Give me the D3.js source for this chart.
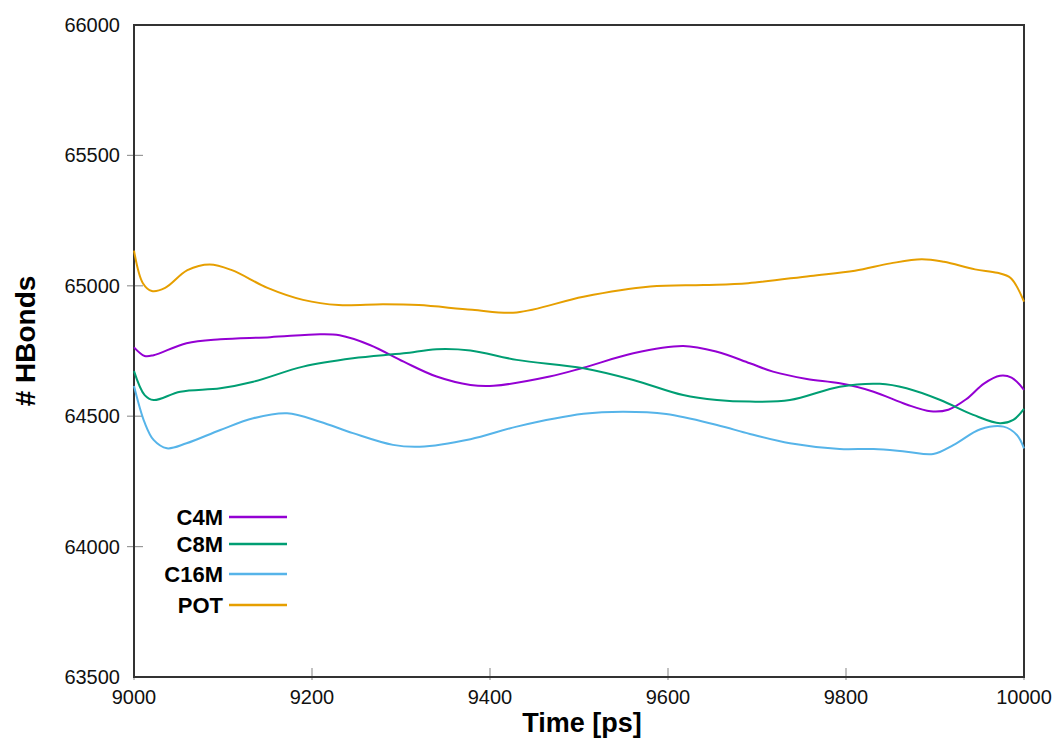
<!DOCTYPE html>
<html>
<head>
<meta charset="utf-8">
<script src="https://cdn.jsdelivr.net/npm/d3@7"></script>
<style>
  body { margin: 0; background: #fff; }
  svg { font-family: "Liberation Sans", Arial, sans-serif; }
</style>
</head>
<body>
<div id="chart"></div>
<script>
var seriesNames = ["C4M", "C8M", "C16M", "POT"];
var seriesColors = ["#9400d3", "#009e73", "#56b4e9", "#e69f00"];

var c4mTime = [9000, 9012, 9022, 9059, 9097, 9153, 9209, 9231, 9265, 9303, 9340, 9378, 9404, 9467, 9505, 9561, 9617, 9655, 9692, 9718, 9756, 9793, 9831, 9868, 9895, 9915, 9935, 9955, 9973, 9986, 10000];
var c4mValue = [64764, 64731, 64734, 64780, 64795, 64803, 64814, 64810, 64773, 64709, 64652, 64620, 64617, 64652, 64686, 64741, 64769, 64747, 64703, 64671, 64643, 64626, 64594, 64545, 64519, 64525, 64565, 64625, 64655, 64648, 64601];

var c8mTime = [9000, 9012, 9022, 9052, 9097, 9134, 9190, 9246, 9303, 9340, 9378, 9430, 9505, 9561, 9617, 9655, 9692, 9737, 9793, 9838, 9868, 9906, 9943, 9973, 9988, 10000];
var c8mValue = [64673, 64581, 64562, 64594, 64607, 64632, 64690, 64722, 64741, 64757, 64752, 64716, 64684, 64639, 64581, 64562, 64556, 64562, 64613, 64624, 64607, 64562, 64505, 64473, 64486, 64528];

var c16mTime = [9000, 9012, 9022, 9037, 9059, 9097, 9134, 9172, 9209, 9246, 9291, 9321, 9378, 9430, 9505, 9550, 9598, 9655, 9692, 9737, 9793, 9831, 9868, 9898, 9921, 9951, 9977, 9992, 10000];
var c16mValue = [64616, 64475, 64409, 64377, 64396, 64447, 64492, 64511, 64479, 64435, 64390, 64383, 64412, 64460, 64509, 64517, 64508, 64466, 64432, 64396, 64374, 64374, 64364, 64355, 64390, 64450, 64460, 64428, 64377];

var potTime = [9000, 9010, 9020, 9035, 9060, 9085, 9110, 9150, 9190, 9230, 9280, 9320, 9380, 9430, 9505, 9580, 9640, 9690, 9760, 9810, 9850, 9885, 9910, 9945, 9970, 9985, 10000];
var potValue = [65135, 65010, 64980, 64992, 65060, 65082, 65060, 64992, 64946, 64926, 64929, 64926, 64908, 64898, 64958, 64997, 65003, 65010, 65038, 65058, 65086, 65102, 65092, 65063, 65050, 65030, 64939];

var xTicks = [9000, 9200, 9400, 9600, 9800, 10000];
var yTicks = [63500, 64000, 64500, 65000, 65500, 66000];

var width = 1058, height = 740;
var margin = {left: 134, right: 34, top: 25, bottom: 63};

var svg = d3.select("#chart").append("svg").attr("width", width).attr("height", height);

var x = d3.scaleLinear().domain([9000, 10000]).range([margin.left, width - margin.right]);
var y = d3.scaleLinear().domain([63500, 66000]).range([height - margin.bottom, margin.top]);

// ticks (grey)
svg.append("g").selectAll("line").data(yTicks.slice(1, -1)).enter().append("line")
  .attr("x1", x(9000) - 7).attr("x2", x(9000) + 9)
  .attr("y1", function(d) { return y(d); }).attr("y2", function(d) { return y(d); })
  .attr("stroke", "#999").attr("stroke-width", 1.2);
svg.append("g").selectAll("line").data(xTicks).enter().append("line")
  .attr("x1", function(d) { return x(d); }).attr("x2", function(d) { return x(d); })
  .attr("y1", y(63500) - 9).attr("y2", y(63500) + 3)
  .attr("stroke", "#999").attr("stroke-width", 1.2);

// tick labels
svg.append("g").selectAll("text").data(yTicks).enter().append("text")
  .attr("x", x(9000) - 14).attr("y", function(d) { return y(d) + 7; })
  .attr("text-anchor", "end").attr("font-size", 20).attr("fill", "#111")
  .text(function(d) { return d; });
svg.append("g").selectAll("text").data(xTicks).enter().append("text")
  .attr("x", function(d) { return x(d); }).attr("y", y(63500) + 27)
  .attr("text-anchor", "middle").attr("font-size", 20).attr("fill", "#111")
  .text(function(d) { return d; });

// frame
svg.append("rect")
  .attr("x", x(9000)).attr("y", y(66000))
  .attr("width", x(10000) - x(9000)).attr("height", y(63500) - y(66000))
  .attr("fill", "none").attr("stroke", "#333").attr("stroke-width", 2);

var series = [
  {time: c4mTime, value: c4mValue},
  {time: c8mTime, value: c8mValue},
  {time: c16mTime, value: c16mValue},
  {time: potTime, value: potValue}
];

var line = d3.line()
  .x(function(d) { return x(d[0]); })
  .y(function(d) { return y(d[1]); })
  .curve(d3.curveCatmullRom.alpha(0.5));

series.forEach(function(s, i) {
  var pts = s.time.map(function(t, j) { return [t, s.value[j]]; });
  svg.append("path").datum(pts)
    .attr("d", line)
    .attr("fill", "none")
    .attr("stroke", seriesColors[i])
    .attr("stroke-width", 2);
});

// legend
var legendY = [517, 544, 574, 605];
seriesNames.forEach(function(name, i) {
  svg.append("text").attr("x", 223).attr("y", legendY[i] + 8)
    .attr("text-anchor", "end").attr("font-size", 22).attr("font-weight", "bold")
    .attr("fill", "#000").text(name);
  svg.append("line").attr("x1", 229).attr("x2", 287)
    .attr("y1", legendY[i]).attr("y2", legendY[i])
    .attr("stroke", seriesColors[i]).attr("stroke-width", 2.5);
});

// axis titles
svg.append("text").attr("x", 582).attr("y", 732)
  .attr("text-anchor", "middle").attr("font-size", 27).attr("font-weight", "bold")
  .text("Time [ps]");
svg.append("text")
  .attr("transform", "translate(35,341) rotate(-90)")
  .attr("text-anchor", "middle").attr("font-size", 28).attr("font-weight", "bold")
  .text("# HBonds");
</script>
</body>
</html>
